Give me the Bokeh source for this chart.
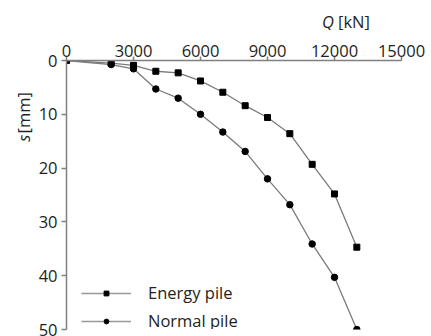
from bokeh.plotting import figure
from bokeh.models import Range1d, FixedTicker, Legend, LegendItem, ColumnDataSource
from bokeh.layouts import column, row
from bokeh.core.properties import value
from bokeh.embed import file_html
from bokeh.resources import INLINE
import math

# Data
energy_Q = [0, 2000, 3000, 4000, 5000, 6000, 7000, 8000, 9000, 10000, 11000, 12000, 13000]
energy_s = [0, 0.5, 0.9, 2.0, 2.3, 3.8, 5.9, 8.4, 10.6, 13.6, 19.3, 24.8, 34.7]
normal_Q = [0, 2000, 3000, 4000, 5000, 6000, 7000, 8000, 9000, 10000, 11000, 12000, 13000]
normal_s = [0, 0.75, 1.55, 5.3, 7.0, 10.0, 13.3, 16.9, 22.0, 26.8, 34.1, 40.3, 50.0]
x_ticks = [0, 3000, 6000, 9000, 12000, 15000]
x_tick_labels = ["0", "3000", "6000", "9000", "12000", "15000"]
y_ticks = [0, 10, 20, 30, 40, 50]
y_tick_labels = ["0", "10", "20", "30", "40", "50"]
series_names = ["Energy pile", "Normal pile"]
x_title = ["Q", "[kN]"]
y_title = ["s", "[mm]"]

FONT = "Open Sans"
FS = "16.5px"
TXT = "#231f20"
AX = "#808080"
LINE = "#7a7a7a"

W, H = 431, 336
TOP_H = 30
LEFT_W = 35


def blank(width, height):
    f = figure(width=width, height=height, output_backend="svg", toolbar_location=None,
               x_axis_location=None, y_axis_location=None, title=None,
               x_range=Range1d(0, width), y_range=Range1d(height, 0),
               min_border=0, min_border_left=0, min_border_right=0, min_border_top=0, min_border_bottom=0)
    f.grid.visible = False
    f.outline_line_color = None
    f.background_fill_color = "white"
    f.border_fill_color = "white"
    return f


txt_style = dict(text_font=value(FONT), text_font_size=FS, text_color=TXT,
                 text_align="center", text_baseline="middle")

# top strip with the x-axis title
top = blank(W, TOP_H)
top.text(x=[327.5], y=[20.5], text=[x_title[0]], text_font_style="italic", **txt_style)
top.text(x=[353.5], y=[20.5], text=[x_title[1]], **txt_style)

# left strip with the y-axis title (rotated)
left = blank(LEFT_W, H - TOP_H)
left.text(x=[23], y=[118.5 - TOP_H], text=[y_title[0]], text_font_style="italic",
          angle=math.pi / 2, **txt_style)
left.text(x=[22.5], y=[89.5 - TOP_H], text=[y_title[1]], angle=math.pi / 2, **txt_style)

# main plot
p = figure(width=W - LEFT_W, height=H - TOP_H, output_backend="svg", toolbar_location=None,
           x_axis_location="above", x_range=Range1d(0, 15000), y_range=Range1d(50, 0),
           min_border_left=65 - LEFT_W, min_border_right=30, min_border_top=60 - TOP_H, min_border_bottom=7)
p.outline_line_color = None
p.xgrid.visible = False
p.ygrid.visible = False
p.background_fill_color = "white"
p.border_fill_color = "white"

for ax, ticks, labels, tout in ((p.xaxis[0], x_ticks, x_tick_labels, 4), (p.yaxis[0], y_ticks, y_tick_labels, 5)):
    ax.ticker = FixedTicker(ticks=ticks)
    ax.major_label_overrides = {t: l for t, l in zip(ticks, labels)}
    ax.minor_tick_line_color = None
    ax.major_tick_in = 0
    ax.major_tick_out = tout
    ax.axis_line_color = AX
    ax.axis_line_width = 1.5
    ax.major_tick_line_color = AX
    ax.major_tick_line_width = 1.5
    ax.major_label_text_font = FONT
    ax.major_label_text_font_size = FS
    ax.major_label_text_color = TXT
p.xaxis.major_label_standoff = 0
p.yaxis.major_label_standoff = 4

src_e = ColumnDataSource(dict(x=energy_Q, y=energy_s))
src_n = ColumnDataSource(dict(x=normal_Q, y=normal_s))
p.line("x", "y", source=src_e, line_color=LINE, line_width=1.3)
p.scatter("x", "y", source=src_e, marker="square", size=6, color="black")
p.line("x", "y", source=src_n, line_color=LINE, line_width=1.3)
p.scatter("x", "y", source=src_n, marker="circle", size=6.5, color="black")

# legend-only renderers (outside visible range)
dummy = ColumnDataSource(dict(x=[-1e6], y=[-1e6]))
lle = p.line("x", "y", source=dummy, line_color="#999999", line_width=1.5)
lse = p.scatter("x", "y", source=dummy, marker="square", size=5, color="black")
lln = p.line("x", "y", source=dummy, line_color="#999999", line_width=1.5)
lsn = p.scatter("x", "y", source=dummy, marker="circle", size=5, color="black")

legend = Legend(items=[LegendItem(label=series_names[0], renderers=[lle, lse]),
                       LegendItem(label=series_names[1], renderers=[lln, lsn])],
                location=(15, -3), glyph_width=50, glyph_height=12, label_height=20,
                label_standoff=17, spacing=5, padding=0, margin=0,
                border_line_color=None, background_fill_alpha=0,
                label_text_font=FONT, label_text_font_size=FS, label_text_color=TXT)
p.add_layout(legend, "center")

layout = column(top, row(left, p, spacing=0), spacing=0)
open("out.html", "w").write(file_html(layout, INLINE))
